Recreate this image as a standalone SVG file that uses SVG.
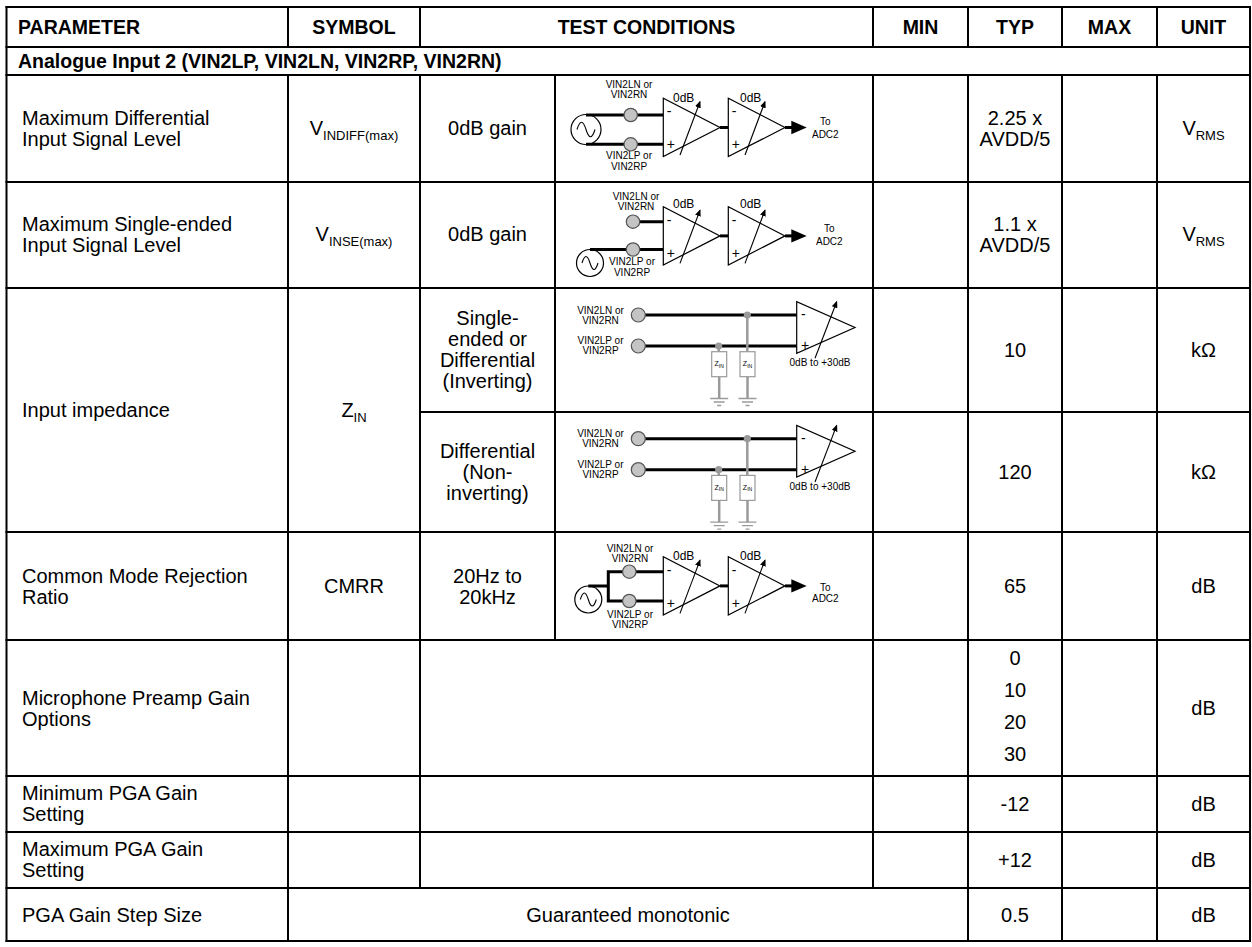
<svg xmlns="http://www.w3.org/2000/svg" width="1252" height="947" viewBox="0 0 1252 947">
<style>
.t{font-family:"Liberation Sans",Arial,sans-serif;font-size:20px;fill:#000}
.b{font-weight:bold;font-size:19.5px}
.m{text-anchor:middle}
.sub{font-size:13px}
.sl{font-family:"Liberation Sans",Arial,sans-serif;font-size:10px;fill:#000;text-anchor:middle}
.db{font-family:"Liberation Sans",Arial,sans-serif;font-size:12px;fill:#000}
.sg{font-family:"Liberation Sans",Arial,sans-serif;font-size:14px;fill:#000}
.zl{font-family:"Liberation Sans",Arial,sans-serif;font-size:7px;fill:#000;text-anchor:middle}
.grid line{stroke:#000;stroke-width:2}
.amp{fill:#fff;stroke:#000;stroke-width:1.2}
.w{stroke:#000;stroke-width:3;fill:none}
.gw{stroke:#9a9a9a;stroke-width:2.5;fill:none}
.gt{stroke:#9a9a9a;stroke-width:1.3;fill:none}
.term{fill:#c4c4c4;stroke:#555;stroke-width:1.2}
.jd{fill:#9a9a9a}
.src{fill:#fff;stroke:#000;stroke-width:1.2}
.va{stroke:#000;stroke-width:1.1;fill:none;marker-end:url(#ah)}
.box{fill:#fff;stroke:#9a9a9a;stroke-width:1.2}
</style>
<defs>
<marker id="ah" markerUnits="userSpaceOnUse" markerWidth="7" markerHeight="6" refX="6" refY="3" orient="auto"><path d="M0,0 L7,3 L0,6 z" fill="#000"/></marker>
</defs>
<rect width="1252" height="947" fill="#fff"/>

<g class="grid" id="grid">
<line x1="5.5" y1="7" x2="1251" y2="7"/>
<line x1="5.5" y1="47" x2="1251" y2="47"/>
<line x1="5.5" y1="75" x2="1251" y2="75"/>
<line x1="5.5" y1="182" x2="1251" y2="182"/>
<line x1="5.5" y1="288" x2="1251" y2="288"/>
<line x1="420" y1="412" x2="1251" y2="412"/>
<line x1="5.5" y1="532" x2="1251" y2="532"/>
<line x1="5.5" y1="640" x2="1251" y2="640"/>
<line x1="5.5" y1="776" x2="1251" y2="776"/>
<line x1="5.5" y1="832" x2="1251" y2="832"/>
<line x1="5.5" y1="888" x2="1251" y2="888"/>
<line x1="5.5" y1="941" x2="1251" y2="941"/>
<line x1="6.5" y1="6" x2="6.5" y2="942"/>
<line x1="1250" y1="6" x2="1250" y2="942"/>
<line x1="288" y1="6" x2="288" y2="47"/>
<line x1="420" y1="6" x2="420" y2="47"/>
<line x1="873" y1="6" x2="873" y2="47"/>
<line x1="968" y1="6" x2="968" y2="47"/>
<line x1="1062" y1="6" x2="1062" y2="47"/>
<line x1="1157" y1="6" x2="1157" y2="47"/>
<line x1="288" y1="75" x2="288" y2="942"/>
<line x1="420" y1="75" x2="420" y2="888"/>
<line x1="555" y1="75" x2="555" y2="640"/>
<line x1="873" y1="75" x2="873" y2="888"/>
<line x1="968" y1="75" x2="968" y2="942"/>
<line x1="1062" y1="75" x2="1062" y2="942"/>
<line x1="1157" y1="75" x2="1157" y2="942"/>
</g>

<g id="header">
<text class="t b" x="18" y="34">PARAMETER</text>
<text class="t b m" x="354" y="34">SYMBOL</text>
<text class="t b m" x="646.5" y="34">TEST CONDITIONS</text>
<text class="t b m" x="920.5" y="34">MIN</text>
<text class="t b m" x="1015" y="34">TYP</text>
<text class="t b m" x="1109.5" y="34">MAX</text>
<text class="t b m" x="1203.5" y="34">UNIT</text>
</g>

<g id="section">
<text class="t b" x="18" y="68">Analogue Input 2 (VIN2LP, VIN2LN, VIN2RP, VIN2RN)</text>
</g>

<g id="row-vindiff">
<text class="t" x="22" y="125">Maximum Differential</text>
<text class="t" x="22" y="146">Input Signal Level</text>
<text class="t m" x="354" y="135">V<tspan class="sub" dy="5">INDIFF(max)</tspan></text>
<text class="t m" x="487.5" y="135">0dB gain</text>
<text class="t m" x="1015" y="125">2.25 x</text>
<text class="t m" x="1015" y="146">AVDD/5</text>
<text class="t m" x="1203.5" y="135">V<tspan class="sub" dy="5">RMS</tspan></text>
</g>

<g id="row-vinse">
<text class="t" x="22" y="231">Maximum Single-ended</text>
<text class="t" x="22" y="252">Input Signal Level</text>
<text class="t m" x="354" y="241">V<tspan class="sub" dy="5">INSE(max)</tspan></text>
<text class="t m" x="487.5" y="241">0dB gain</text>
<text class="t m" x="1015" y="231">1.1 x</text>
<text class="t m" x="1015" y="252">AVDD/5</text>
<text class="t m" x="1203.5" y="241">V<tspan class="sub" dy="5">RMS</tspan></text>
</g>

<g id="row-zin">
<text class="t" x="22" y="417">Input impedance</text>
<text class="t m" x="354" y="417">Z<tspan class="sub" dy="5">IN</tspan></text>
<text class="t m" x="487.5" y="325">Single-</text>
<text class="t m" x="487.5" y="346">ended or</text>
<text class="t m" x="487.5" y="367">Differential</text>
<text class="t m" x="487.5" y="388">(Inverting)</text>
<text class="t m" x="1015" y="357">10</text>
<text class="t m" x="1203.5" y="357">kΩ</text>
<text class="t m" x="487.5" y="458">Differential</text>
<text class="t m" x="487.5" y="479">(Non-</text>
<text class="t m" x="487.5" y="500">inverting)</text>
<text class="t m" x="1015" y="479">120</text>
<text class="t m" x="1203.5" y="479">kΩ</text>
</g>

<g id="row-cmrr">
<text class="t" x="22" y="583">Common Mode Rejection</text>
<text class="t" x="22" y="604">Ratio</text>
<text class="t m" x="354" y="593">CMRR</text>
<text class="t m" x="487.5" y="583">20Hz to</text>
<text class="t m" x="487.5" y="604">20kHz</text>
<text class="t m" x="1015" y="593">65</text>
<text class="t m" x="1203.5" y="593">dB</text>
</g>

<g id="row-micgain">
<text class="t" x="22" y="705">Microphone Preamp Gain</text>
<text class="t" x="22" y="726">Options</text>
<text class="t m" x="1015" y="665">0</text>
<text class="t m" x="1015" y="697">10</text>
<text class="t m" x="1015" y="729">20</text>
<text class="t m" x="1015" y="761">30</text>
<text class="t m" x="1203.5" y="715">dB</text>
</g>

<g id="row-minpga">
<text class="t" x="22" y="800">Minimum PGA Gain</text>
<text class="t" x="22" y="821">Setting</text>
<text class="t m" x="1015" y="811">-12</text>
<text class="t m" x="1203.5" y="811">dB</text>
</g>

<g id="row-maxpga">
<text class="t" x="22" y="856">Maximum PGA Gain</text>
<text class="t" x="22" y="877">Setting</text>
<text class="t m" x="1015" y="867">+12</text>
<text class="t m" x="1203.5" y="867">dB</text>
</g>

<g id="row-step">
<text class="t" x="22" y="921.5">PGA Gain Step Size</text>
<text class="t m" x="628" y="921.5">Guaranteed monotonic</text>
<text class="t m" x="1015" y="921.5">0.5</text>
<text class="t m" x="1203.5" y="921.5">dB</text>
</g>

<g id="circuit-diff">
<circle class="src" cx="586" cy="129.5" r="15"/>
<path d="M577,129.5 Q581.5,115 586,129.5 T595,129.5" fill="none" stroke="#000" stroke-width="1.1"/>
<path class="w" d="M586,115 H663.3 M586,144.3 H663.3"/>
<circle class="term" cx="630.7" cy="115" r="6.7"/>
<circle class="term" cx="630.7" cy="144.3" r="6.7"/>
<text class="sl" x="629" y="88.3">VIN2LN or</text>
<text class="sl" x="629" y="98.3">VIN2RN</text>
<text class="sl" x="629" y="159">VIN2LP or</text>
<text class="sl" x="629" y="170">VIN2RP</text>
<g transform="translate(663.3,98.3)">
<polygon class="amp" points="0,0 0,58.3 56.7,29.2"/>
<text class="sg" x="3.5" y="18">-</text>
<text class="sg" x="3.5" y="51">+</text>
<line class="va" x1="16.7" y1="56.7" x2="36.7" y2="3.4"/>
<text class="db" x="9.7" y="3.5">0dB</text>
<line class="w" x1="56.7" y1="29.2" x2="65" y2="29.2"/>
<polygon class="amp" points="65,0 65,58.3 121.7,29.2"/>
<text class="sg" x="68.5" y="18">-</text>
<text class="sg" x="68.5" y="51">+</text>
<line class="va" x1="81.7" y1="56.7" x2="101.7" y2="3.4"/>
<text class="db" x="76.7" y="3.5">0dB</text>
<line class="w" x1="121.7" y1="29.2" x2="130" y2="29.2"/>
<polygon points="128,22.5 143.4,29.2 128,35.9" fill="#000"/>
<text class="sl" x="162" y="27">To</text>
<text class="sl" x="162" y="39.5">ADC2</text>
</g>
</g>

<g id="circuit-se">
<circle class="src" cx="590" cy="263" r="13.5"/>
<path d="M582,263 Q586,250 590,263 T598,263" fill="none" stroke="#000" stroke-width="1.1"/>
<path class="w" d="M633,221.7 H663.3 M590,249.5 H663.3"/>
<circle class="term" cx="633" cy="221.7" r="6.7"/>
<circle class="term" cx="633" cy="249.5" r="6.7"/>
<text class="sl" x="636" y="200">VIN2LN or</text>
<text class="sl" x="636" y="210">VIN2RN</text>
<text class="sl" x="632" y="265">VIN2LP or</text>
<text class="sl" x="632" y="276">VIN2RP</text>
<g transform="translate(663.3,206.7)">
<polygon class="amp" points="0,0 0,58.3 56.7,29.2"/>
<text class="sg" x="3.5" y="18">-</text>
<text class="sg" x="3.5" y="51">+</text>
<line class="va" x1="16.7" y1="56.7" x2="36.7" y2="3.4"/>
<text class="db" x="9.7" y="1.6">0dB</text>
<line class="w" x1="56.7" y1="29.2" x2="65" y2="29.2"/>
<polygon class="amp" points="65,0 65,58.3 121.7,29.2"/>
<text class="sg" x="68.5" y="18">-</text>
<text class="sg" x="68.5" y="51">+</text>
<line class="va" x1="81.7" y1="56.7" x2="101.7" y2="3.4"/>
<text class="db" x="76.7" y="1.6">0dB</text>
<line class="w" x1="121.7" y1="29.2" x2="130" y2="29.2"/>
<polygon points="128,22.5 143.4,29.2 128,35.9" fill="#000"/>
<text class="sl" x="166" y="25">To</text>
<text class="sl" x="166" y="38">ADC2</text>
</g>
</g>

<g id="circuit-zin-inv" transform="translate(0,288)">
<text class="sl" x="600.5" y="25.5">VIN2LN or</text>
<text class="sl" x="600.5" y="35.5">VIN2RN</text>
<text class="sl" x="600.5" y="56">VIN2LP or</text>
<text class="sl" x="600.5" y="66">VIN2RP</text>
<path class="w" d="M645,27 H796.7 M645,58 H796.7"/>
<circle class="term" cx="638.3" cy="27" r="7"/>
<circle class="term" cx="638.3" cy="58" r="7"/>
<path class="gw" d="M747.3,27 V63.7 M718.7,58 V63.7 M719.2,88.7 V110.5 M747.5,88.7 V110.5"/>
<circle class="jd" cx="747.3" cy="27" r="3.6"/>
<circle class="jd" cx="718.7" cy="58" r="3.6"/>
<rect class="box" x="711.7" y="63.7" width="15" height="25"/>
<rect class="box" x="740" y="63.7" width="15" height="25"/>
<text class="zl" x="719.2" y="78">Z<tspan font-size="5" dy="1.5">IN</tspan></text>
<text class="zl" x="747.5" y="78">Z<tspan font-size="5" dy="1.5">IN</tspan></text>
<path class="gt" d="M710.2,110.5 H728.2 M713.7,114 H724.7 M717.2,117.5 H721.2 M738.5,110.5 H756.5 M742,114 H753 M745.5,117.5 H749.5"/>
<polygon class="amp" points="796.7,13.7 796.7,65.3 855,39.5"/>
<text class="sg" x="801" y="31">-</text>
<text class="sg" x="801" y="62">+</text>
<line class="va" x1="815" y1="70.3" x2="836.7" y2="13.7"/>
<text class="sl" x="820" y="78">0dB to +30dB</text>
</g>

<g id="circuit-zin-noninv" transform="translate(0,411.7)">
<text class="sl" x="600.5" y="25.5">VIN2LN or</text>
<text class="sl" x="600.5" y="35.5">VIN2RN</text>
<text class="sl" x="600.5" y="56">VIN2LP or</text>
<text class="sl" x="600.5" y="66">VIN2RP</text>
<path class="w" d="M645,27 H796.7 M645,58 H796.7"/>
<circle class="term" cx="638.3" cy="27" r="7"/>
<circle class="term" cx="638.3" cy="58" r="7"/>
<path class="gw" d="M747.3,27 V63.7 M718.7,58 V63.7 M719.2,88.7 V110.5 M747.5,88.7 V110.5"/>
<circle class="jd" cx="747.3" cy="27" r="3.6"/>
<circle class="jd" cx="718.7" cy="58" r="3.6"/>
<rect class="box" x="711.7" y="63.7" width="15" height="25"/>
<rect class="box" x="740" y="63.7" width="15" height="25"/>
<text class="zl" x="719.2" y="78">Z<tspan font-size="5" dy="1.5">IN</tspan></text>
<text class="zl" x="747.5" y="78">Z<tspan font-size="5" dy="1.5">IN</tspan></text>
<path class="gt" d="M710.2,110.5 H728.2 M713.7,114 H724.7 M717.2,117.5 H721.2 M738.5,110.5 H756.5 M742,114 H753 M745.5,117.5 H749.5"/>
<polygon class="amp" points="796.7,13.7 796.7,65.3 855,39.5"/>
<text class="sg" x="801" y="31">-</text>
<text class="sg" x="801" y="62">+</text>
<line class="va" x1="815" y1="70.3" x2="836.7" y2="13.7"/>
<text class="sl" x="820" y="78">0dB to +30dB</text>
</g>

<g id="circuit-cmrr">
<circle class="src" cx="588.3" cy="599.5" r="13.5"/>
<path d="M580.3,599.5 Q584.3,586.5 588.3,599.5 T596.3,599.5" fill="none" stroke="#000" stroke-width="1.1"/>
<path class="w" d="M588.3,586 H608.3 M608.3,570.2 V602.5 M606.8,571.7 H663.3 M606.8,601 H663.3"/>
<circle class="term" cx="629.3" cy="571.7" r="6.7"/>
<circle class="term" cx="629.3" cy="601" r="6.7"/>
<text class="sl" x="630" y="551.7">VIN2LN or</text>
<text class="sl" x="630" y="562.3">VIN2RN</text>
<text class="sl" x="630" y="618.3">VIN2LP or</text>
<text class="sl" x="630" y="628.3">VIN2RP</text>
<g transform="translate(663.3,556.7)">
<polygon class="amp" points="0,0 0,58.3 56.7,29.2"/>
<text class="sg" x="3.5" y="18">-</text>
<text class="sg" x="3.5" y="51">+</text>
<line class="va" x1="16.7" y1="56.7" x2="36.7" y2="3.4"/>
<text class="db" x="9.7" y="3.4">0dB</text>
<line class="w" x1="56.7" y1="29.2" x2="65" y2="29.2"/>
<polygon class="amp" points="65,0 65,58.3 121.7,29.2"/>
<text class="sg" x="68.5" y="18">-</text>
<text class="sg" x="68.5" y="51">+</text>
<line class="va" x1="81.7" y1="56.7" x2="101.7" y2="3.4"/>
<text class="db" x="76.7" y="3.4">0dB</text>
<line class="w" x1="121.7" y1="29.2" x2="130" y2="29.2"/>
<polygon points="128,22.5 143.4,29.2 128,35.9" fill="#000"/>
<text class="sl" x="162" y="34.5">To</text>
<text class="sl" x="162" y="45.5">ADC2</text>
</g>
</g>
</svg>
